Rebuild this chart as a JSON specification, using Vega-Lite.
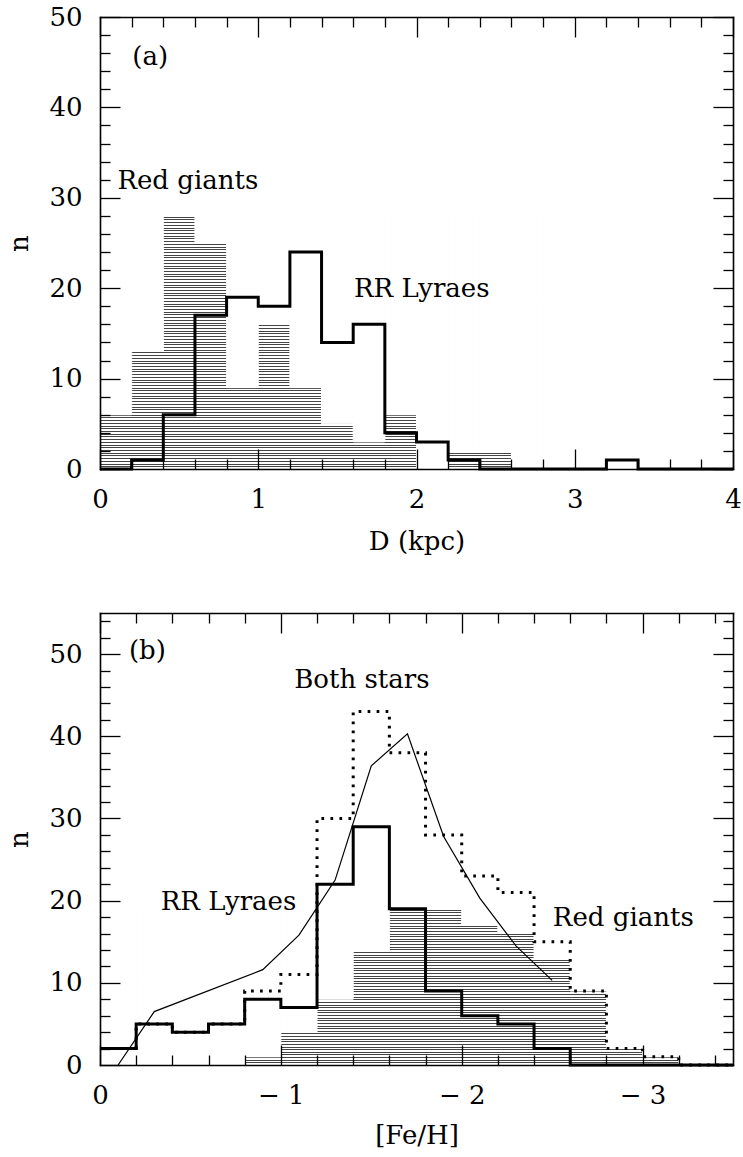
{
  "$schema": "https://vega.github.io/schema/vega-lite/v6.json",
  "padding": {"left": 6, "top": 4, "right": 0, "bottom": 0},
  "spacing": 58,
  "config": {
    "view": {"stroke": null},
    "axis": {"grid": false, "labelFont": "DejaVu Serif", "titleFont": "DejaVu Serif", "labelFontSize": 26, "titleFontSize": 26, "titleFontWeight": "normal", "labelColor": "black", "titleColor": "black", "tickColor": "black", "domainColor": "black", "domainWidth": 1.6, "tickWidth": 1.3, "domainCap": "square"},
    "text": {"font": "DejaVu Serif", "fontSize": 26, "color": "black"}
  },
  "datasets": {
    "giantsD": [
      {"x0": 0, "x1": 0.2, "n": 6}, {"x0": 0.2, "x1": 0.4, "n": 13}, {"x0": 0.4, "x1": 0.6, "n": 28}, {"x0": 0.6, "x1": 0.8, "n": 25},
      {"x0": 0.8, "x1": 1.0, "n": 9}, {"x0": 1.0, "x1": 1.2, "n": 16}, {"x0": 1.2, "x1": 1.4, "n": 9}, {"x0": 1.4, "x1": 1.6, "n": 5},
      {"x0": 1.6, "x1": 1.8, "n": 3}, {"x0": 1.8, "x1": 2.0, "n": 6}, {"x0": 2.0, "x1": 2.2, "n": 0}, {"x0": 2.2, "x1": 2.4, "n": 2},
      {"x0": 2.4, "x1": 2.6, "n": 2}, {"x0": 2.6, "x1": 2.8, "n": 0}, {"x0": 2.8, "x1": 3.0, "n": 0}, {"x0": 3.0, "x1": 3.2, "n": 0},
      {"x0": 3.2, "x1": 3.4, "n": 0}, {"x0": 3.4, "x1": 3.6, "n": 0}, {"x0": 3.6, "x1": 3.8, "n": 0}, {"x0": 3.8, "x1": 4.0, "n": 0}
    ],
    "rrD": [
      {"x": 0, "n": 0}, {"x": 0.2, "n": 1}, {"x": 0.4, "n": 6}, {"x": 0.6, "n": 17}, {"x": 0.8, "n": 19},
      {"x": 1.0, "n": 18}, {"x": 1.2, "n": 24}, {"x": 1.4, "n": 14}, {"x": 1.6, "n": 16}, {"x": 1.8, "n": 4},
      {"x": 2.0, "n": 3}, {"x": 2.2, "n": 1}, {"x": 2.4, "n": 0}, {"x": 2.6, "n": 0}, {"x": 2.8, "n": 0},
      {"x": 3.0, "n": 0}, {"x": 3.2, "n": 1}, {"x": 3.4, "n": 0}, {"x": 3.6, "n": 0}, {"x": 3.8, "n": 0}, {"x": 4.0, "n": 0}
    ],
    "labelsA": [
      {"x": 0.11, "y": 31.0, "t": "Red giants"},
      {"x": 1.605, "y": 19.0, "t": "RR Lyraes"}
    ],
    "tagA": [{"x": 0.204, "y": 44.7, "t": "(a)"}],
    "giantsFe": [
      {"x0": 0, "x1": -0.2, "n": 0}, {"x0": -0.2, "x1": -0.4, "n": 0}, {"x0": -0.4, "x1": -0.6, "n": 0}, {"x0": -0.6, "x1": -0.8, "n": 0},
      {"x0": -0.8, "x1": -1.0, "n": 1}, {"x0": -1.0, "x1": -1.2, "n": 4}, {"x0": -1.2, "x1": -1.4, "n": 8}, {"x0": -1.4, "x1": -1.6, "n": 14},
      {"x0": -1.6, "x1": -1.8, "n": 19}, {"x0": -1.8, "x1": -2.0, "n": 19}, {"x0": -2.0, "x1": -2.2, "n": 17}, {"x0": -2.2, "x1": -2.4, "n": 16},
      {"x0": -2.4, "x1": -2.6, "n": 13}, {"x0": -2.6, "x1": -2.8, "n": 9}, {"x0": -2.8, "x1": -3.0, "n": 2}, {"x0": -3.0, "x1": -3.2, "n": 1},
      {"x0": -3.2, "x1": -3.4, "n": 0}, {"x0": -3.4, "x1": -3.6, "n": 0}
    ],
    "bothFe": [
      {"x": 0, "n": 2}, {"x": -0.2, "n": 5}, {"x": -0.4, "n": 4}, {"x": -0.6, "n": 5}, {"x": -0.8, "n": 9},
      {"x": -1.0, "n": 11}, {"x": -1.2, "n": 30}, {"x": -1.4, "n": 43}, {"x": -1.6, "n": 38}, {"x": -1.8, "n": 28},
      {"x": -2.0, "n": 23}, {"x": -2.2, "n": 21}, {"x": -2.4, "n": 15}, {"x": -2.6, "n": 9}, {"x": -2.8, "n": 2},
      {"x": -3.0, "n": 1}, {"x": -3.2, "n": 0}, {"x": -3.4, "n": 0}, {"x": -3.5, "n": 0}
    ],
    "rrFe": [
      {"x": 0, "n": 2}, {"x": -0.2, "n": 5}, {"x": -0.4, "n": 4}, {"x": -0.6, "n": 5}, {"x": -0.8, "n": 8},
      {"x": -1.0, "n": 7}, {"x": -1.2, "n": 22}, {"x": -1.4, "n": 29}, {"x": -1.6, "n": 19}, {"x": -1.8, "n": 9},
      {"x": -2.0, "n": 6}, {"x": -2.2, "n": 5}, {"x": -2.4, "n": 2}, {"x": -2.6, "n": 0}, {"x": -2.8, "n": 0},
      {"x": -3.0, "n": 0}, {"x": -3.2, "n": 0}, {"x": -3.4, "n": 0}, {"x": -3.5, "n": 0}
    ],
    "curveFe": [
      {"x": -0.1, "n": 0}, {"x": -0.3, "n": 6.5}, {"x": -0.9, "n": 11.6}, {"x": -1.1, "n": 15.8}, {"x": -1.3, "n": 22.5},
      {"x": -1.5, "n": 36.4}, {"x": -1.7, "n": 40.3}, {"x": -1.9, "n": 27.8}, {"x": -2.1, "n": 20.3}, {"x": -2.3, "n": 14.5}, {"x": -2.5, "n": 10.3}
    ],
    "labelsB": [
      {"x": -0.16, "y": 49.4, "t": "(b)"},
      {"x": -1.074, "y": 45.9, "t": "Both stars"},
      {"x": -0.336, "y": 18.8, "t": "RR Lyraes"},
      {"x": -2.504, "y": 16.9, "t": "Red giants"}
    ]
  },
  "vconcat": [
    {
      "width": 633,
      "height": 452,
      "resolve": {"axis": {"x": "independent", "y": "independent"}},
      "layer": [
        {
          "data": {"name": "giantsD"},
          "mark": {"type": "bar", "fill": "white", "stroke": "white", "strokeWidth": 1, "clip": true},
          "encoding": {
            "x": {"field": "x0", "type": "quantitative", "scale": {"domain": [0, 4], "nice": false, "zero": false},
                  "axis": {"orient": "bottom", "values": [0, 1, 2, 3, 4], "ticks": false, "domain": true, "labelPadding": 17, "labelFlush": false, "title": "D (kpc)", "titlePadding": 16, "zindex": 1}},
            "x2": {"field": "x1"},
            "y": {"field": "n", "type": "quantitative", "scale": {"domain": [0, 50], "nice": false},
                  "axis": {"orient": "left", "grid": true, "gridColor": "#444444", "gridWidth": 1, "ticks": false, "labels": false, "domain": false, "title": null, "zindex": 0,
                           "values": [0.3,0.6,0.9,1.2,1.5,1.8,2.1,2.4,2.7,3,3.3,3.6,3.9,4.2,4.5,4.8,5.1,5.4,5.7,6,6.3,6.6,6.9,7.2,7.5,7.8,8.1,8.4,8.7,9,9.3,9.6,9.9,10.2,10.5,10.8,11.1,11.4,11.7,12,12.3,12.6,12.9,13.2,13.5,13.8,14.1,14.4,14.7,15,15.3,15.6,15.9,16.2,16.5,16.8,17.1,17.4,17.7,18,18.3,18.6,18.9,19.2,19.5,19.8,20.1,20.4,20.7,21,21.3,21.6,21.9,22.2,22.5,22.8,23.1,23.4,23.7,24,24.3,24.6,24.9,25.2,25.5,25.8,26.1,26.4,26.7,27,27.3,27.6,27.9]}},
            "y2": {"datum": 50}
          }
        },
        {
          "data": {"name": "rrD"},
          "mark": {"type": "line", "interpolate": "step-after", "stroke": "black", "strokeWidth": 3},
          "encoding": {
            "x": {"field": "x", "type": "quantitative", "scale": {"domain": [0, 4], "nice": false, "zero": false},
                  "axis": {"orient": "top", "values": [0,0.2,0.4,0.6,0.8,1,1.2,1.4,1.6,1.8,2,2.2,2.4,2.6,2.8,3,3.2,3.4,3.6,3.8,4], "labels": false, "domain": true, "title": null, "zindex": 1,
                           "tickSize": {"condition": {"test": "datum.value % 1 === 0", "value": -20}, "value": -10}}},
            "y": {"field": "n", "type": "quantitative", "scale": {"domain": [0, 50], "nice": false},
                  "axis": {"orient": "left", "values": [0, 10, 20, 30, 40, 50], "ticks": false, "domain": true, "labelPadding": 18, "title": "n", "titlePadding": 16, "zindex": 1}},
            "order": {"value": null}
          }
        },
        {
          "data": {"name": "labelsA"},
          "mark": {"type": "text", "align": "left", "baseline": "alphabetic"},
          "encoding": {
            "x": {"field": "x", "type": "quantitative", "scale": {"domain": [0, 4], "nice": false, "zero": false},
                  "axis": {"orient": "bottom", "values": [0,0.2,0.4,0.6,0.8,1,1.2,1.4,1.6,1.8,2,2.2,2.4,2.6,2.8,3,3.2,3.4,3.6,3.8,4], "labels": false, "domain": false, "title": null, "zindex": 1,
                           "tickSize": {"condition": {"test": "datum.value % 1 === 0", "value": -20}, "value": -10}}},
            "y": {"field": "y", "type": "quantitative", "scale": {"domain": [0, 50], "nice": false},
                  "axis": {"orient": "left", "values": [0,2,4,6,8,10,12,14,16,18,20,22,24,26,28,30,32,34,36,38,40,42,44,46,48,50], "labels": false, "domain": false, "title": null, "zindex": 1,
                           "tickSize": {"condition": {"test": "datum.value % 10 === 0", "value": -20}, "value": -10}}},
            "text": {"field": "t"}
          }
        },
        {
          "data": {"name": "tagA"},
          "mark": {"type": "text", "align": "left", "baseline": "alphabetic"},
          "encoding": {
            "x": {"field": "x", "type": "quantitative", "scale": {"domain": [0, 4], "nice": false, "zero": false}, "axis": null},
            "y": {"field": "y", "type": "quantitative", "scale": {"domain": [0, 50], "nice": false},
                  "axis": {"orient": "right", "values": [0,2,4,6,8,10,12,14,16,18,20,22,24,26,28,30,32,34,36,38,40,42,44,46,48,50], "labels": false, "domain": true, "title": null, "zindex": 1,
                           "tickSize": {"condition": {"test": "datum.value % 10 === 0", "value": -20}, "value": -10}}},
            "text": {"field": "t"}
          }
        }
      ]
    },
    {
      "width": 633,
      "height": 452,
      "resolve": {"axis": {"x": "independent", "y": "independent"}},
      "layer": [
        {
          "data": {"name": "giantsFe"},
          "mark": {"type": "bar", "fill": "white", "stroke": "white", "strokeWidth": 1, "clip": true},
          "encoding": {
            "x": {"field": "x0", "type": "quantitative", "scale": {"domain": [0, -3.5], "nice": false, "zero": false},
                  "axis": {"orient": "bottom", "values": [0, -1, -2, -3], "ticks": false, "domain": true, "labelPadding": 17, "labelFlush": false, "title": "[Fe/H]", "titlePadding": 14, "zindex": 1,
                           "labelExpr": "datum.value < 0 ? '\u2212 ' + format(-datum.value, 'd') : datum.label"}},
            "x2": {"field": "x1"},
            "y": {"field": "n", "type": "quantitative", "scale": {"domain": [0, 55], "nice": false},
                  "axis": {"orient": "left", "grid": true, "gridColor": "#444444", "gridWidth": 1, "ticks": false, "labels": false, "domain": false, "title": null, "zindex": 0,
                           "values": [0.32,0.64,0.96,1.28,1.6,1.92,2.24,2.56,2.88,3.2,3.52,3.84,4.16,4.48,4.8,5.12,5.44,5.76,6.08,6.4,6.72,7.04,7.36,7.68,8,8.32,8.64,8.96,9.28,9.6,9.92,10.24,10.56,10.88,11.2,11.52,11.84,12.16,12.48,12.8,13.12,13.44,13.76,14.08,14.4,14.72,15.04,15.36,15.68,16,16.32,16.64,16.96,17.28,17.6,17.92,18.24,18.56,18.88,19.2]}},
            "y2": {"datum": 55}
          }
        },
        {
          "data": {"name": "bothFe"},
          "mark": {"type": "line", "interpolate": "step-after", "stroke": "black", "strokeWidth": 3, "strokeDash": [2.7, 6.3], "strokeCap": "butt"},
          "encoding": {
            "x": {"field": "x", "type": "quantitative", "scale": {"domain": [0, -3.5], "nice": false, "zero": false},
                  "axis": {"orient": "top", "values": [0,-0.2,-0.4,-0.6,-0.8,-1,-1.2,-1.4,-1.6,-1.8,-2,-2.2,-2.4,-2.6,-2.8,-3,-3.2,-3.4], "labels": false, "domain": true, "title": null, "zindex": 1,
                           "tickSize": {"condition": {"test": "datum.value % 1 === 0", "value": -20}, "value": -10}}},
            "y": {"field": "n", "type": "quantitative", "scale": {"domain": [0, 55], "nice": false},
                  "axis": {"orient": "left", "values": [0, 10, 20, 30, 40, 50], "ticks": false, "domain": true, "labelPadding": 18, "title": "n", "titlePadding": 16, "zindex": 1}},
            "order": {"value": null}
          }
        },
        {
          "data": {"name": "rrFe"},
          "mark": {"type": "line", "interpolate": "step-after", "stroke": "black", "strokeWidth": 3},
          "encoding": {
            "x": {"field": "x", "type": "quantitative", "scale": {"domain": [0, -3.5], "nice": false, "zero": false},
                  "axis": {"orient": "bottom", "values": [0,-0.2,-0.4,-0.6,-0.8,-1,-1.2,-1.4,-1.6,-1.8,-2,-2.2,-2.4,-2.6,-2.8,-3,-3.2,-3.4], "labels": false, "domain": false, "title": null, "zindex": 1,
                           "tickSize": {"condition": {"test": "datum.value % 1 === 0", "value": -20}, "value": -10}}},
            "y": {"field": "n", "type": "quantitative", "scale": {"domain": [0, 55], "nice": false},
                  "axis": {"orient": "left", "values": [0,2,4,6,8,10,12,14,16,18,20,22,24,26,28,30,32,34,36,38,40,42,44,46,48,50,52,54], "labels": false, "domain": false, "title": null, "zindex": 1,
                           "tickSize": {"condition": {"test": "datum.value % 10 === 0", "value": -20}, "value": -10}}},
            "order": {"value": null}
          }
        },
        {
          "data": {"name": "curveFe"},
          "mark": {"type": "line", "stroke": "black", "strokeWidth": 1.2, "clip": true},
          "encoding": {
            "x": {"field": "x", "type": "quantitative", "scale": {"domain": [0, -3.5], "nice": false, "zero": false}, "axis": null},
            "y": {"field": "n", "type": "quantitative", "scale": {"domain": [0, 55], "nice": false},
                  "axis": {"orient": "right", "values": [0,2,4,6,8,10,12,14,16,18,20,22,24,26,28,30,32,34,36,38,40,42,44,46,48,50,52,54], "labels": false, "domain": true, "title": null, "zindex": 1,
                           "tickSize": {"condition": {"test": "datum.value % 10 === 0", "value": -20}, "value": -10}}},
            "order": {"value": null}
          }
        },
        {
          "data": {"name": "labelsB"},
          "mark": {"type": "text", "align": "left", "baseline": "alphabetic"},
          "encoding": {
            "x": {"field": "x", "type": "quantitative", "scale": {"domain": [0, -3.5], "nice": false, "zero": false}, "axis": null},
            "y": {"field": "y", "type": "quantitative", "scale": {"domain": [0, 55], "nice": false}, "axis": null},
            "text": {"field": "t"}
          }
        }
      ]
    }
  ]
}
